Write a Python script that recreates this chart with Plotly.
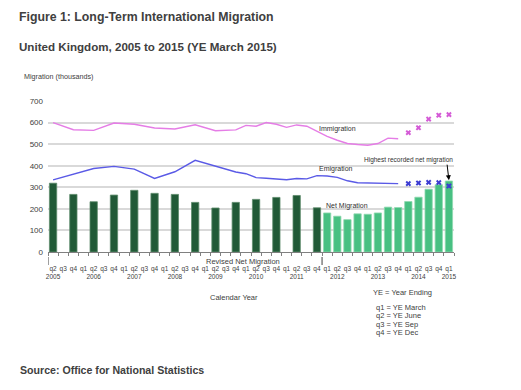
import plotly.graph_objects as go

# ---------------- data ----------------
periods = [
    "2005 q2", "2005 q3", "2005 q4",
    "2006 q1", "2006 q2", "2006 q3", "2006 q4",
    "2007 q1", "2007 q2", "2007 q3", "2007 q4",
    "2008 q1", "2008 q2", "2008 q3", "2008 q4",
    "2009 q1", "2009 q2", "2009 q3", "2009 q4",
    "2010 q1", "2010 q2", "2010 q3", "2010 q4",
    "2011 q1", "2011 q2", "2011 q3", "2011 q4",
    "2012 q1", "2012 q2", "2012 q3", "2012 q4",
    "2013 q1", "2013 q2", "2013 q3", "2013 q4",
    "2014 q1", "2014 q2", "2014 q3", "2014 q4",
    "2015 q1",
]
quarter_labels = [p.split(" ")[1] for p in periods]
year_labels = ["2005", "", "", "", "2006", "", "", "", "2007", "", "", "",
               "2008", "", "", "", "2009", "", "", "", "2010", "", "", "",
               "2011", "", "", "", "2012", "", "", "", "2013", "", "", "",
               "2014", "", "", "2015"]

# Revised net migration (YE June / YE Dec)
revised_x = ["2005 q2", "2005 q4", "2006 q2", "2006 q4", "2007 q2", "2007 q4",
             "2008 q2", "2008 q4", "2009 q2", "2009 q4", "2010 q2", "2010 q4",
             "2011 q2", "2011 q4"]
revised_net = [319, 267, 233, 264, 286, 272, 267, 230, 204, 230, 244, 253, 262, 205]

# Net migration (quarterly)
net_x = ["2012 q1", "2012 q2", "2012 q3", "2012 q4", "2013 q1", "2013 q2",
         "2013 q3", "2013 q4", "2014 q1", "2014 q2", "2014 q3", "2014 q4", "2015 q1"]
net_mig = [181, 166, 150, 177, 175, 181, 208, 206, 234, 254, 291, 312, 329]

# Lines
line_x = ["2005 q2", "2005 q4", "2006 q2", "2006 q4", "2007 q2", "2007 q4",
          "2008 q2", "2008 q4", "2009 q2", "2009 q4", "2010 q1", "2010 q2",
          "2010 q3", "2010 q4", "2011 q1", "2011 q2", "2011 q3", "2011 q4",
          "2012 q1", "2012 q2", "2012 q3", "2012 q4", "2013 q1", "2013 q2",
          "2013 q3", "2013 q4"]
immigration = [600, 567, 564, 598, 592, 575, 570, 590, 562, 566, 587, 583,
               600, 592, 578, 589, 583, 561, 536, 518, 503, 498, 495, 503, 528, 525]
emigration = [334, 362, 387, 397, 384, 341, 372, 425, 397, 371, 363, 345,
              342, 339, 335, 341, 339, 354, 352, 346, 330, 321, 320, 320, 318, 317]

# Provisional estimates (markers)
prov_x = ["2014 q1", "2014 q2", "2014 q3", "2014 q4", "2015 q1"]
imm_prov = [553, 576, 616, 634, 637]
emi_prov = [317, 320, 323, 322, 306]

# ---------------- styling ----------------
FONT = "Liberation Sans, Arial, sans-serif"
TXT = "#404040"
OFF = 8  # page body margin offset
L, R, T, B = 48 - OFF, 454 - OFF, 101 - OFF, 252 - OFF


def px(x):
    return ((x - OFF) - L) / (R - L)


def py(y):
    return (B - (y - OFF)) / (B - T)


fig = go.Figure()
fig.add_trace(go.Bar(x=revised_x, y=revised_net, marker=dict(color="#215a37", line=dict(color="#5e8c6c", width=0.8)),
                     width=0.72, name="Revised Net Migration"))
fig.add_trace(go.Bar(x=net_x, y=net_mig, marker=dict(color="#48c082", line=dict(color="#8fd9b0", width=0.8)),
                     width=0.72, name="Net Migration"))
fig.add_trace(go.Scatter(x=line_x, y=immigration, mode="lines", line=dict(color="#e57de6", width=1.4), name="Immigration"))
fig.add_trace(go.Scatter(x=line_x, y=emigration, mode="lines", line=dict(color="#5a5ae6", width=1.4), name="Emigration"))
fig.add_trace(go.Scatter(x=prov_x, y=imm_prov, mode="markers",
                         marker=dict(symbol="x", size=5, color="#d45ad6"), name="Immigration (prov)"))
fig.add_trace(go.Scatter(x=prov_x, y=emi_prov, mode="markers",
                         marker=dict(symbol="x", size=5, color="#3c3cd2"), name="Emigration (prov)"))

ticktext = [q + ("<br>" + y if y else "") for q, y in zip(quarter_labels, year_labels)]

fig.update_layout(
    width=521, height=390,
    margin=dict(l=L, r=521 - R, t=T, b=390 - B),
    paper_bgcolor="white", plot_bgcolor="white",
    showlegend=False, barmode="overlay",
    font=dict(family=FONT, color=TXT),
    xaxis=dict(type="category", categoryorder="array", categoryarray=periods,
               tickmode="array", tickvals=periods, ticktext=ticktext,
               tickfont=dict(size=6.5, color=TXT), tickangle=0,
               showgrid=False, showline=True, linecolor="#808080", linewidth=1,
               ticks="outside", ticklen=3, tickcolor="#808080", tickson="boundaries",
               ticklabelstandoff=10, range=[-0.5, 39.5]),
    yaxis=dict(range=[0, 700], dtick=100, tickfont=dict(size=8, color=TXT),
               showgrid=True, gridcolor="#d9d9d9", gridwidth=1.5,
               zeroline=False, showline=False, ticks="", ticklabelstandoff=4),
)

ann = []


def text(x, y, s, size=8, bold=False, anchor="left", color=TXT):
    ann.append(dict(x=x, y=y, xref="paper", yref="paper",
                    text=f"<b>{s}</b>" if bold else s, showarrow=False,
                    xanchor=anchor, yanchor="middle",
                    font=dict(size=size, color=color, family=FONT)))


text(px(17), py(17), "Figure 1: Long-Term International Migration", size=12.3, bold=True)
text(px(17), py(47), "United Kingdom, 2005 to 2015 (YE March 2015)", size=11.6, bold=True)
text(px(22), py(76), "Migration (thousands)", size=7.2)
text(px(234), py(297), "Calendar Year", size=7.5, anchor="center")
text(px(371), py(292), "YE = Year Ending", size=7.5)
text(px(374), py(307), "q1 = YE March", size=7.5)
text(px(374), py(315.5), "q2 = YE June", size=7.5)
text(px(374), py(324), "q3 = YE Sep", size=7.5)
text(px(374), py(332.5), "q4 = YE Dec", size=7.5)
text(px(18), py(370), "Source: Office for National Statistics", size=10.6, bold=True)
text(px(243), py(261), "Revised Net Migration", size=7.5, anchor="center")

# in-plot labels (data coordinates)
for xi, yv, s in [(28, 569, "Immigration"), (27.9, 383, "Emigration"), (29.0, 211, "Net Migration")]:
    ann.append(dict(x=xi, y=yv, xref="x", yref="y", text=s, showarrow=False,
                    xanchor="center", yanchor="middle", font=dict(size=7, color="#303030", family=FONT)))
ann.append(dict(x=35.0, y=425, xref="x", yref="y", text="Highest recorded net migration", showarrow=False,
                xanchor="center", yanchor="middle", font=dict(size=6.5, color="#303030", family=FONT)))
ann.append(dict(x=39, y=net_mig[-1] + 4, xref="x", yref="y", text="", showarrow=True,
                ax=-2, ay=-17, arrowhead=2, arrowsize=1, arrowwidth=1, arrowcolor="#000000"))

fig.update_layout(annotations=ann)

# separators between revised and provisional periods
for xs in [-0.5, 26.5]:
    fig.add_shape(type="line", xref="x", yref="paper", x0=xs, x1=xs, y0=py(257), y1=py(265),
                  line=dict(color="#404040", width=1))

fig.write_html("out.html")
